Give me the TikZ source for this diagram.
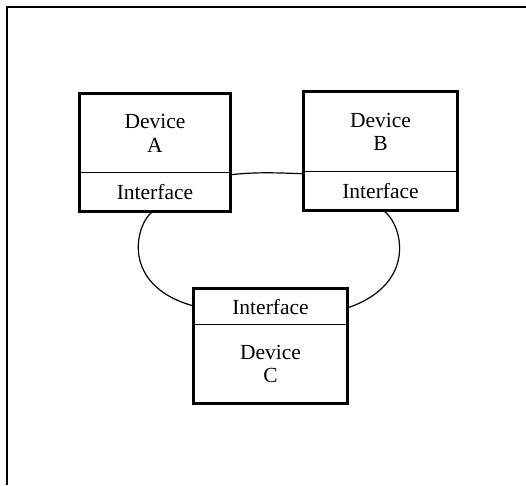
\documentclass[tikz,border=0pt]{standalone}
\usepackage{fontspec}
\setmainfont{Liberation Serif}
\begin{document}
\begin{tikzpicture}[x=1pt,y=-1pt,
  part/.style={rectangle,inner sep=0pt,align=center,
    font=\fontsize{21.5}{23.5}\selectfont},
  outline/.style={line width=2.8pt},
  divider/.style={line width=1.3pt},
  link/.style={line width=1.2pt}]
\useasboundingbox (0,0) rectangle (526,485);
% frame
\draw[line width=2pt] (7,485) -- (7,7) -- (526,7);
% device A
\node[part,minimum width=150pt,minimum height=79pt] (devA) at (155,133.5) {Device\\A};
\node[part,minimum width=150pt,minimum height=38pt] (ifA) at (155,192) {Interface};
% device B
\node[part,minimum width=153pt,minimum height=80pt] (devB) at (380.5,132) {Device\\B};
\node[part,minimum width=153pt,minimum height=38pt] (ifB) at (380.5,191) {Interface};
% device C
\node[part,minimum width=153pt,minimum height=36pt] (ifC) at (270.5,307) {Interface};
\node[part,minimum width=153pt,minimum height=78pt] (devC) at (270.5,364) {Device\\C};
% outlines and dividers
\draw[outline] (devA.north west) rectangle (ifA.south east);
\draw[divider] (ifA.north west) -- (ifA.north east);
\draw[outline] (devB.north west) rectangle (ifB.south east);
\draw[divider] (ifB.north west) -- (ifB.north east);
\draw[outline] (ifC.north west) rectangle (devC.south east);
\draw[divider] (devC.north west) -- (devC.north east);
% connectors
\draw[link] ([yshift=-2pt]ifA.north east) .. controls +(25,-3) and +(-25,-1) .. ([yshift=-2pt]ifB.north west);
\draw[link] ([xshift=-2pt]ifA.south) .. controls (135,224) and (120,286) .. ([yshift=1pt]ifC.west);
\draw[link] ([xshift=2.5pt]ifB.south) .. controls (403,224) and (418,284) .. ([yshift=-1pt]ifC.east);
\end{tikzpicture}
\end{document}
